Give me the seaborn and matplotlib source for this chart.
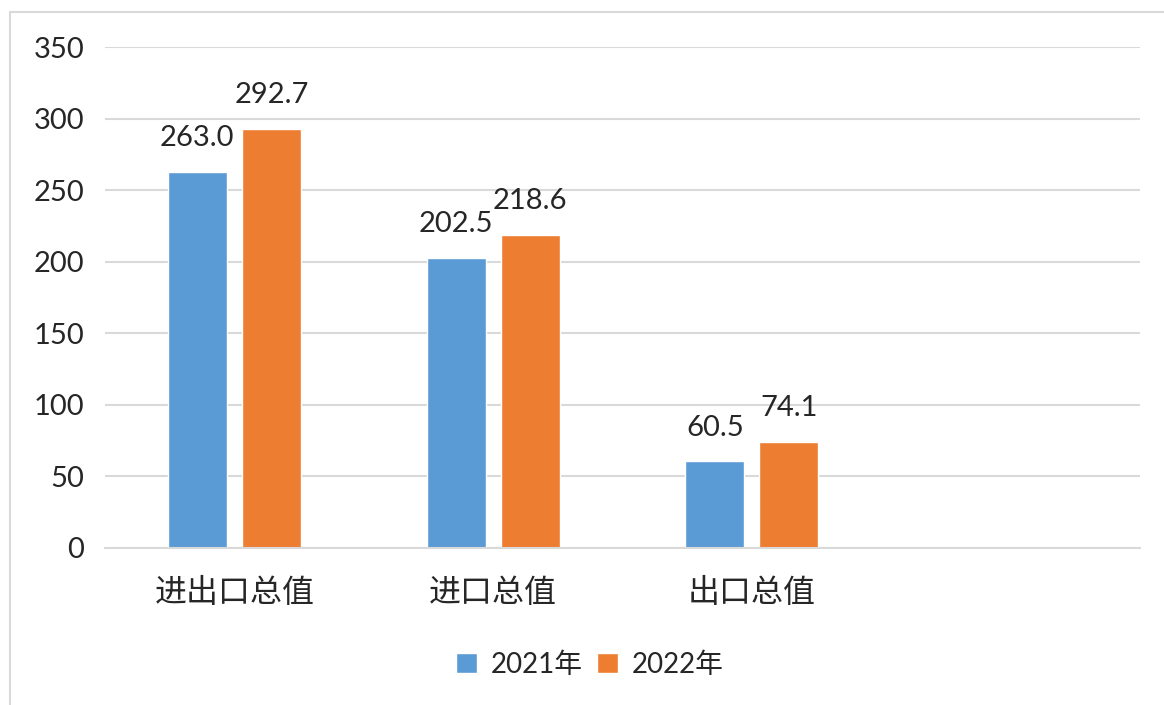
import matplotlib
matplotlib.use("Agg")
import matplotlib.pyplot as plt
import seaborn as sns
import pandas as pd
from matplotlib.patches import Rectangle

categories = ["进出口总值", "进口总值", "出口总值"]
years = ["2021年", "2022年"]
values_2021 = [263.0, 202.5, 60.5]
values_2022 = [292.7, 218.6, 74.1]
yticks = [0, 50, 100, 150, 200, 250, 300, 350]

df = pd.DataFrame({
    "cat": categories * 2,
    "year": [years[0]] * 3 + [years[1]] * 3,
    "val": values_2021 + values_2022,
})

sns.set_theme(style="white")
plt.rcParams['font.family'] = ['Lato', 'Noto Sans CJK SC', 'DejaVu Sans']

fig = plt.figure(figsize=(11.64, 7.05), dpi=100)
ax = fig.add_axes([105/1164, 1-548/705, (1140-105)/1164, (548-47)/705])

palette = {"2021年": "#5B9BD5", "2022年": "#ED7D31"}
sns.barplot(data=df, x="cat", y="val", hue="year", order=categories,
            hue_order=years, palette=palette, width=0.572, gap=0.203,
            saturation=1, ax=ax, legend=True)

ax.set_xlim(-0.5, 3.5)
ax.set_ylim(0, 350)
ax.set_yticks(yticks)
ax.set_yticklabels([str(t) for t in yticks], fontsize=21, family=['Lato', 'DejaVu Sans'])
ax.set_xticks(range(len(categories)))
ax.set_xticklabels(categories, fontsize=23, family=['Noto Sans CJK SC', 'DejaVu Sans'])
ax.tick_params(axis='x', length=0, pad=21)
ax.tick_params(axis='y', length=0, pad=15)
ax.set_xlabel("")
ax.set_ylabel("")
ax.grid(axis='y', color='#D9D9D9', linewidth=1.5)
ax.set_axisbelow(True)
for s in ["top", "right", "left"]:
    ax.spines[s].set_visible(False)
ax.spines["bottom"].set_color("#D9D9D9")
ax.spines["bottom"].set_linewidth(1.5)

for cont in ax.containers:
    ax.bar_label(cont, fmt="%.1f", padding=15, fontsize=21, family=['Lato', 'DejaVu Sans'])

ax.legend(loc="center", bbox_to_anchor=(590/1164, 1-665/705), bbox_transform=fig.transFigure,
          ncol=2, frameon=False, prop={'family': ['Lato', 'Noto Sans CJK SC'], 'size': 20},
          handlelength=0.75, handleheight=0.75, handletextpad=0.5, columnspacing=0.5)

fig.patches.append(Rectangle((10/1164, -0.1), 1.2, 1.1 - 12/705 + 0.0,
                             transform=fig.transFigure, fill=False,
                             edgecolor='#D9D9D9', linewidth=1.5))

fig.savefig("out.png", dpi=100, facecolor="white")
